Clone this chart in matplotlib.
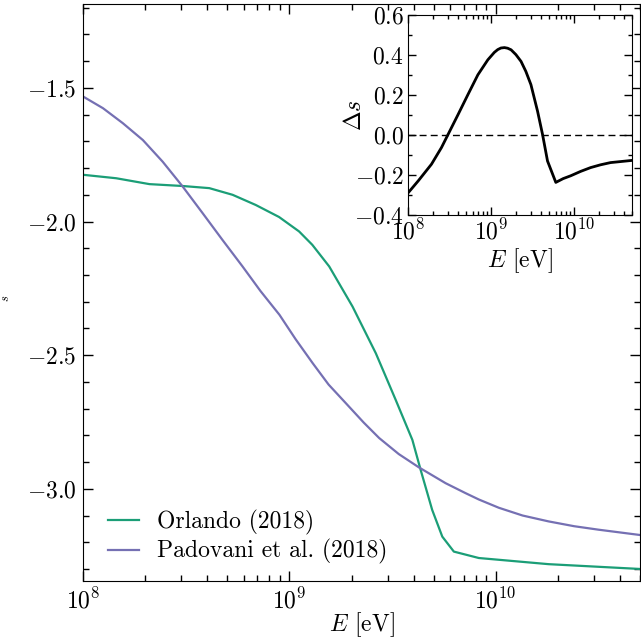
import numpy as np
import matplotlib
matplotlib.use("Agg")
import matplotlib.pyplot as plt
from matplotlib.ticker import MultipleLocator, LogLocator, NullFormatter

plt.rcParams.update({
    "font.family": "serif",
    "font.serif": ["cmr10", "DejaVu Serif"],
    "mathtext.fontset": "cm",
    "axes.formatter.use_mathtext": True,
    "font.size": 17,
})

# ---- data (log10 of E in eV, spectral slope s) ----
logE_orlando = [8.0, 8.161, 8.322, 8.483, 8.612, 8.725, 8.837, 8.950, 9.047, 9.111,
                9.193, 9.306, 9.419, 9.515, 9.596, 9.636, 9.692, 9.741, 9.797, 9.918,
                10.256, 10.70]
s_orlando = [-1.825, -1.838, -1.860, -1.867, -1.875, -1.900, -1.938, -1.983, -2.037, -2.087,
             -2.168, -2.318, -2.493, -2.667, -2.817, -2.929, -3.079, -3.179, -3.235, -3.259,
             -3.282, -3.300]

logE_padovani = [8.0, 8.097, 8.193, 8.290, 8.386, 8.483, 8.580, 8.676, 8.773, 8.860,
                 8.952, 9.03, 9.113, 9.19, 9.274, 9.36, 9.435, 9.53, 9.628, 9.757, 9.853,
                 9.918, 10.015, 10.13, 10.256, 10.38, 10.498, 10.70]
s_padovani = [-1.532, -1.576, -1.632, -1.695, -1.776, -1.869, -1.969, -2.069, -2.168, -2.260,
              -2.349, -2.440, -2.530, -2.610, -2.680, -2.752, -2.810, -2.870, -2.920, -2.979,
              -3.016, -3.040, -3.071, -3.100, -3.122, -3.140, -3.153, -3.173]

logE_delta = [8.0, 8.124, 8.283, 8.403, 8.483, 8.603, 8.722, 8.842, 8.962, 9.04, 9.081,
              9.12, 9.162, 9.20, 9.242, 9.30, 9.362, 9.42, 9.481, 9.561, 9.621, 9.681,
              9.781, 9.87, 9.960, 10.08, 10.2, 10.32, 10.44, 10.70]
delta_s = [-0.290, -0.229, -0.146, -0.063, 0.003, 0.102, 0.202, 0.301, 0.376, 0.413, 0.427,
           0.435, 0.437, 0.434, 0.426, 0.402, 0.368, 0.318, 0.252, 0.119, 0.003, -0.130,
           -0.237, -0.218, -0.204, -0.182, -0.163, -0.149, -0.138, -0.127]

labels = ["Orlando (2018)", "Padovani et al. (2018)"]
colors = ["#1b9e77", "#7570b3"]

W, H = 641, 638
fig = plt.figure(figsize=(W / 100, H / 100), dpi=100)

def rect(l, t, r, b):
    return [l / W, 1 - b / H, (r - l) / W, (b - t) / H]

ax = fig.add_axes(rect(83, 4, 640, 581))
ax.plot(10 ** np.array(logE_orlando), s_orlando, color=colors[0], lw=1.6, label=labels[0])
ax.plot(10 ** np.array(logE_padovani), s_padovani, color=colors[1], lw=1.6, label=labels[1])
ax.set_xscale("log")
ax.set_xlim(1e8, 5e10)
ax.set_ylim(-3.345, -1.186)
ax.yaxis.set_major_locator(MultipleLocator(0.5))
ax.yaxis.set_minor_locator(MultipleLocator(0.1))
ax.xaxis.set_major_locator(LogLocator(base=10, numticks=10))
ax.xaxis.set_minor_locator(LogLocator(base=10, subs=np.arange(2, 10), numticks=20))
ax.xaxis.set_minor_formatter(NullFormatter())
ax.tick_params(which="both", direction="in", top=True, right=True, labelsize=17)
ax.tick_params(which="major", length=7, width=1, pad=5)
ax.tick_params(which="minor", length=4, width=1)
ax.set_xlabel(r"$E$ [eV]", fontsize=17, labelpad=-2)
ax.set_ylabel(r"$s$", fontsize=9)
ax.yaxis.set_label_coords(-0.128, 0.49)
leg = ax.legend(loc="lower left", frameon=False, fontsize=17, handlelength=1.3,
                handletextpad=0.75, borderaxespad=0.3, labelspacing=0.2,
                bbox_to_anchor=(0.016, 0.0))

ins = fig.add_axes(rect(408, 15, 632, 215))
ins.plot(10 ** np.array(logE_delta), delta_s, color="black", lw=2.0)
ins.axhline(0.0, color="black", lw=1.0, ls=(0, (5, 3)))
ins.set_xscale("log")
ins.set_xlim(1e8, 5e10)
ins.set_ylim(-0.4, 0.6)
ins.yaxis.set_major_locator(MultipleLocator(0.2))
ins.yaxis.set_minor_locator(MultipleLocator(0.1))
ins.xaxis.set_major_locator(LogLocator(base=10, numticks=10))
ins.xaxis.set_minor_locator(LogLocator(base=10, subs=np.arange(2, 10), numticks=20))
ins.xaxis.set_minor_formatter(NullFormatter())
ins.tick_params(which="both", direction="in", top=True, right=True, labelsize=17)
ins.tick_params(which="major", length=6, width=1, pad=3)
ins.tick_params(which="minor", length=3, width=1)
ins.set_xlabel(r"$E$ [eV]", fontsize=17, labelpad=1)
ins.set_ylabel(r"$\Delta s$", fontsize=17)
ins.yaxis.set_label_coords(-0.1875, 0.5)

fig.savefig("out.png", dpi=100)
